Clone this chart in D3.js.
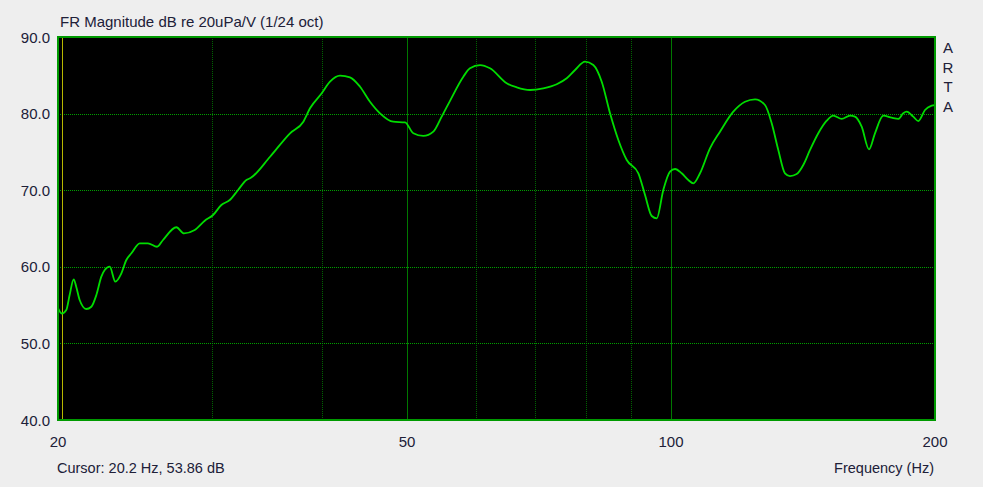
<!DOCTYPE html>
<html>
<head>
<meta charset="utf-8">
<script src="https://cdn.jsdelivr.net/npm/d3@7"></script>
<style>
  html, body { margin: 0; padding: 0; background: #eeeeee; }
  svg { display: block; }
  text { font-family: "Liberation Sans", Arial, sans-serif; fill: #202038; }
</style>
</head>
<body>
<svg id="chart" width="983" height="487"></svg>
<script>
// ---- data ----
const freqs = [20.0, 20.2, 20.44, 20.62, 20.84, 20.98, 21.17, 21.54, 21.83, 22.12, 22.41, 22.61, 22.91,
  23.25, 23.62, 23.93, 24.25, 24.79, 25.33, 25.94, 26.35, 27.29, 27.84, 28.64, 29.40, 30.05, 30.71,
  31.40, 32.09, 32.80, 33.12, 34.90, 36.78, 38.09, 38.76, 39.97, 40.85, 41.94, 43.05, 44.20, 45.37,
  46.58, 48.23, 49.74, 50.84, 52.19, 53.58, 54.77, 55.98, 57.97, 58.99, 60.57, 62.18, 64.96, 66.69,
  69.06, 71.51, 74.08, 76.05, 77.73, 79.80, 81.55, 83.37, 85.21, 87.09, 89.03, 91.79, 93.41, 95.07,
  96.33, 98.0, 99.74, 101.06, 102.85, 104.65, 106.03, 107.91, 110.78, 113.73, 117.77, 121.45, 124.68,
  127.99, 130.26, 132.54, 134.89, 136.67, 139.1, 141.53, 144.05, 147.22, 150.5, 153.13, 156.54,
  159.99, 162.1, 164.98, 168.17, 170.84, 174.61, 178.5, 181.62, 184.02, 185.67, 188.92, 191.42,
  194.82, 198.28, 200.0];
const dbs = [54.6, 53.9, 54.36, 56.32, 58.37, 57.4, 55.67, 54.49, 54.79, 56.32, 58.71, 59.58, 60.01,
  58.06, 59.15, 60.89, 61.76, 63.07, 63.07, 62.62, 63.5, 65.16, 64.37, 64.8, 66.02, 66.76, 68.07,
  68.72, 70.03, 71.33, 71.55, 74.37, 77.43, 78.94, 80.69, 82.65, 84.16, 84.95, 84.74, 83.51, 81.55,
  80.04, 78.94, 78.86, 77.43, 77.08, 77.64, 79.6, 81.67, 84.82, 85.91, 86.34, 85.91, 83.96, 83.43,
  83.08, 83.3, 83.83, 84.61, 85.69, 86.78, 86.34, 84.16, 80.04, 76.55, 73.94, 72.21, 69.37, 66.63,
  66.33, 70.03, 72.42, 72.77, 72.21, 71.33, 70.9, 72.21, 75.47, 77.64, 80.25, 81.55, 81.87,
  81.12, 78.73, 75.25, 72.21, 71.85, 72.11, 73.29, 75.25, 77.43, 79.07, 79.73, 79.3,
  79.73, 79.6, 78.29, 75.34, 77.43, 79.73, 79.46, 79.3, 80.04, 80.25, 79.6, 79.03,
  80.47, 81.03, 81.12];
const yTicks = [40, 50, 60, 70, 80, 90];
const xTickLabels = [20, 50, 100, 200];
const minorGridFreqs = [30, 40, 60, 70, 80, 90];
const majorGridFreqs = [50, 100];
const cursorFreq = 20.2;
const titleText = "FR Magnitude dB re 20uPa/V (1/24 oct)";
const cursorText = "Cursor: 20.2 Hz, 53.86 dB";
const xAxisTitle = "Frequency (Hz)";
const brandLetters = ["A", "R", "T", "A"];

// ---- layout ----
const L = 58, R = 935, T = 37, B = 420;
const svg = d3.select("#chart");
const x = d3.scaleLog().domain([20, 200]).range([L, R]);
const y = d3.scaleLinear().domain([40, 90]).range([B, T]);

svg.append("rect").attr("x", L).attr("y", T).attr("width", R - L).attr("height", B - T)
  .attr("fill", "#000000");

const grid = svg.append("g").attr("shape-rendering", "crispEdges");
// vertical minor grid
grid.append("g").selectAll("line").data(minorGridFreqs).join("line")
  .attr("x1", d => Math.round(x(d)) + 0.5).attr("x2", d => Math.round(x(d)) + 0.5)
  .attr("y1", T).attr("y2", B)
  .attr("stroke", "#006400").attr("stroke-width", 1).attr("stroke-dasharray", "1,1");
// vertical major grid
grid.append("g").selectAll("line").data(majorGridFreqs).join("line")
  .attr("x1", d => Math.round(x(d)) + 0.5).attr("x2", d => Math.round(x(d)) + 0.5)
  .attr("y1", T).attr("y2", B)
  .attr("stroke", "#007800").attr("stroke-width", 1);
// horizontal grid
grid.append("g").selectAll("line").data(yTicks.slice(1, -1)).join("line")
  .attr("x1", L).attr("x2", R)
  .attr("y1", d => Math.round(y(d)) + 0.5).attr("y2", d => Math.round(y(d)) + 0.5)
  .attr("stroke", "#00a000").attr("stroke-width", 1).attr("stroke-dasharray", "1,1");

// cursor line
grid.append("line")
  .attr("x1", Math.round(x(cursorFreq)) + 0.5).attr("x2", Math.round(x(cursorFreq)) + 0.5)
  .attr("y1", T).attr("y2", B).attr("stroke", "#b8b800").attr("stroke-width", 1);

// curve
const pts = freqs.map((f, i) => [f, dbs[i]]);
const line = d3.line().x(d => x(d[0])).y(d => y(d[1])).curve(d3.curveMonotoneX);
svg.append("path").datum(pts).attr("d", line)
  .attr("fill", "none").attr("stroke", "#00dd00").attr("stroke-width", 1.8)
  .attr("stroke-linejoin", "round");

// border
svg.append("rect").attr("x", L).attr("y", T).attr("width", R - L).attr("height", B - T)
  .attr("fill", "none").attr("stroke", "#009a00").attr("stroke-width", 2);

// y tick labels
svg.append("g").selectAll("text").data(yTicks).join("text")
  .attr("x", 50).attr("y", d => y(d) + 5.5).attr("text-anchor", "end")
  .attr("font-size", 15).text(d => d.toFixed(1));

// x tick labels
svg.append("g").selectAll("text").data(xTickLabels).join("text")
  .attr("x", d => x(d)).attr("y", 447).attr("text-anchor", "middle")
  .attr("font-size", 15).text(d => d);

// title
svg.append("text").attr("x", 60).attr("y", 27).attr("font-size", 15).text(titleText);
// cursor readout
svg.append("text").attr("x", 57).attr("y", 473).attr("font-size", 14.5).text(cursorText);
// x axis title
svg.append("text").attr("x", 934).attr("y", 473).attr("text-anchor", "end")
  .attr("font-size", 14.5).text(xAxisTitle);
// brand
svg.append("g").selectAll("text").data(brandLetters).join("text")
  .attr("x", 948).attr("y", (d, i) => 53 + i * 19.6).attr("text-anchor", "middle")
  .attr("font-size", 15).text(d => d);
</script>
</body>
</html>
